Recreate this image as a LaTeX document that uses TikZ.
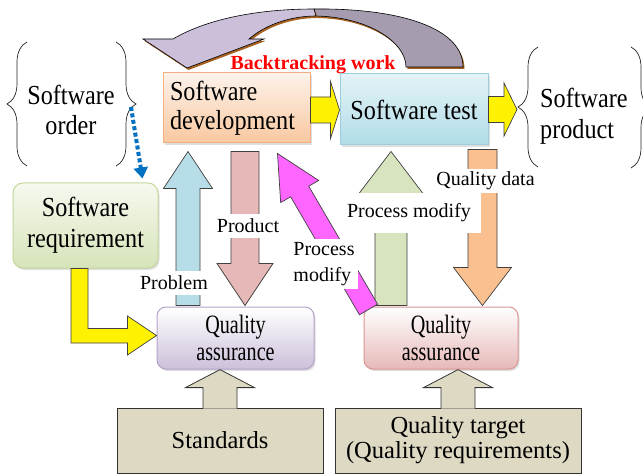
\documentclass[tikz,border=0pt]{standalone}
\usepackage{fontspec}
\setmainfont{Liberation Serif}
\newfontfamily\tallfont[FakeStretch=0.88]{Liberation Serif}
\newfontfamily\narrowfont[FakeStretch=0.76]{Liberation Serif}
\usetikzlibrary{calc,shadows,arrows.meta,decorations.pathreplacing}
\definecolor{devtop}{HTML}{FDF2EA}
\definecolor{devbot}{HTML}{F9C8A0}
\definecolor{devline}{HTML}{F2AE80}
\definecolor{testtop}{HTML}{E4F3F7}
\definecolor{testbot}{HTML}{B0DCE7}
\definecolor{testline}{HTML}{9CCFDE}
\definecolor{reqtop}{HTML}{F6F9EF}
\definecolor{reqbot}{HTML}{D6E4BA}
\definecolor{reqline}{HTML}{C3D69B}
\definecolor{qaAbot}{HTML}{CCC0DA}
\definecolor{qaAline}{HTML}{B3A2C7}
\definecolor{qaBbot}{HTML}{E6B9B8}
\definecolor{qaBline}{HTML}{D99694}
\definecolor{basefill}{HTML}{DDD9C3}
\definecolor{arrblue}{HTML}{B7DEE8}
\definecolor{arrpink}{HTML}{E6B9B8}
\definecolor{arrmag}{HTML}{FF66FF}
\definecolor{arrgreen}{HTML}{D7E4BD}
\definecolor{arrorange}{HTML}{FAC090}
\definecolor{curlfront}{HTML}{CBBFDA}
\definecolor{curlback}{HTML}{A59CAF}
\definecolor{curlshadow}{HTML}{A8621F}
\definecolor{dotblue}{HTML}{0070C0}

\begin{document}
\begin{tikzpicture}[x=1pt,y=-1pt,
  bigtxt/.style={font=\tallfont\fontsize{27.5}{29}\selectfont},
  stagebox/.style={bigtxt,draw=#1line,line width=1pt,top color=#1top,bottom color=#1bot,
    drop shadow={shadow xshift=1.5pt,shadow yshift=-2pt,opacity=.25}},
  qabox/.style={font=\narrowfont\fontsize{26.5}{27}\selectfont,align=center,rounded corners=9pt,
    draw=#1line,line width=1pt,top color=white,bottom color=#1bot,minimum height=62pt,
    drop shadow={shadow xshift=1.5pt,shadow yshift=-2pt,opacity=.25}},
  basebox/.style={font=\fontsize{24.5}{25}\selectfont,align=center,draw=black!80,line width=.8pt,fill=basefill,minimum height=65pt},
  blockarrow/.style={draw=black!75,line width=.7pt},
  curl/.style={draw=black,line width=.6pt,preaction={fill=curlshadow,transform canvas={xshift=1.5pt,yshift=-2pt}}},
  bracket/.style={draw=black!85,line width=.7pt,decorate,decoration={brace,amplitude=20pt}},
  lbl/.style={fill=white,font=\fontsize{20}{26}\selectfont,inner xsep=3pt,inner ysep=5pt},
  dotarrow/.style={dotblue,line width=4pt,dash pattern=on 4pt off 2.5pt,-{Triangle[width=14pt,length=11pt]}}]
\path[use as bounding box,fill=white](0,0)rectangle(643,476);
% backtracking curl
\filldraw[curl,fill=curlback](314,9)..controls(400,8)and(463,28)..(463,67)--(406,67)..controls(406,42)and(368,17)..(316,16)--cycle;
\filldraw[curl,fill=curlfront](316,16)..controls(290,16)and(265,25)..(249,39)--(264,39)--(187,68)--(143,39)--(173,39)..controls(205,20)and(255,9)..(314,9)--cycle;
\node[font=\bfseries\fontsize{20}{24}\selectfont,text=red](back)at(313,65){Backtracking work};
% braces
\draw[bracket](27,166)--(27,42);
\draw[bracket](116,42)--(116,166);
\draw[bracket](538,167)--(538,47);
\draw[bracket](631,47)--(631,168);
\coordinate(otip)at(131,107);
\coordinate(ptip)at(517,107);
\node[bigtxt,align=center,font=\tallfont\fontsize{27.5}{30}\selectfont](order)at(71,110){Software\\order};
\node[bigtxt,align=left,anchor=west,inner sep=0pt,font=\tallfont\fontsize{27.5}{31}\selectfont](product)at(540,116){Software\\product};
% boxes
\node[stagebox=dev,minimum width=147pt,minimum height=70pt,text width=133pt,inner xsep=7pt,align=left](dev)at(236.5,108){Software\\development};
\node[stagebox=test,minimum width=148pt,minimum height=71pt](test)at(414,109.5){Software test};
\node[stagebox=req,rounded corners=10pt,minimum width=145pt,minimum height=85pt,align=center,font=\tallfont\fontsize{27.5}{31}\selectfont](req)at(85.5,225.5){Software\\requirement};
\node[qabox=qaA,minimum width=157pt](qa1)at(235.5,338){Quality\\assurance};
\node[qabox=qaB,minimum width=154pt](qa2)at(441,338){Quality\\assurance};
\node[basebox,minimum width=206pt](std)at(220,440.5){Standards};
\node[basebox,minimum width=246pt](target)at(458,440.5){Quality target\\(Quality requirements)};
\foreach \b in {std,target}{
\filldraw[basebox]($(\b.north)+(-17,1)$)--($(\b.north)+(-17,-20)$)--($(\b.north)+(-34.5,-20)$)--($(\b.north)+(0,-38)$)
  --($(\b.north)+(34.5,-20)$)--($(\b.north)+(17,-20)$)--($(\b.north)+(17,1)$);
}
% block arrows
\coordinate(yAs)at([yshift=-2pt]dev.east);
\coordinate(yAt)at(yAs-|test.west);
\coordinate(yBs)at(test.east);
\coordinate(yBt)at(test.east-|ptip);
\coordinate(pbS)at([xshift=-47.5pt,yshift=1pt]qa1.north);
\coordinate(pbT)at($(pbS|-dev.south)+(0,8)$);
\coordinate(pdS)at($(dev.south)+(8.5,8)$);
\coordinate(pdT)at($(pdS|-qa1.north)+(0,-1)$);
\coordinate(grS)at([xshift=-50pt,yshift=1pt]qa2.north);
\coordinate(grT)at($(grS|-test.south)+(0,6)$);
\coordinate(orS)at($(test.south east)+(-6,4)$);
\coordinate(orT)at($(orS|-qa2.north)+(0,-1)$);
\coordinate(pmS)at($(qa2.north west)+(5,3)$);
\coordinate(pmT)at($(dev.south east)+(-33,10)$);
\foreach \s/\t/\bw/\hw/\hl/\fc in {yAs/yAt/13/28.5/9/yellow,yBs/yBt/13/26.5/13/yellow,pbS/pbT/12/24.5/37/arrblue,
  pdS/pdT/14/28/42/arrpink,grS/grT/16/32/42/arrgreen,orS/orT/14.5/29/38/arrorange,pmS/pmT/10.5/22/44/arrmag}{
\coordinate(h)at($(\t)!\hl pt!(\s)$);
\filldraw[blockarrow,fill=\fc]($(\s)!\bw pt!90:(\t)$)--($(h)!\bw pt!90:(\t)$)--($(h)!\hw pt!90:(\t)$)--(\t)
  --($(h)!\hw pt!-90:(\t)$)--($(h)!\bw pt!-90:(\t)$)--($(\s)!\bw pt!-90:(\t)$)--cycle;
}
\coordinate(elA)at([xshift=-6pt]req.south);
\coordinate(elB)at([yshift=2.5pt]qa1.west);
\filldraw[blockarrow,fill=yellow]($(elA)+(-8.5,0)$)--($(elA|-elB)+(-8.5,7.5)$)--($(elB)+(-29,7.5)$)--($(elB)+(-29,19.5)$)--(elB)
  --($(elB)+(-29,-19.5)$)--($(elB)+(-29,-7)$)--($(elA|-elB)+(8.5,-7)$)--($(elA)+(8.5,0)$)--cycle;
\coordinate(rqtop)at($(req.north east)+(-16,-4)$);
\draw[dotarrow](otip)--(rqtop);
% labels
\node[lbl](lprob)at(174,283){Problem};
\node[lbl](lprod)at(248,226){Product};
\node[lbl,align=left,inner ysep=3pt](lpm1)at(324,264){Process\\modify};
\node[lbl,minimum width=143pt,minimum height=40pt](lpm2)at(409,213){Process modify};
\node[lbl,inner ysep=3pt](lqd)at(485.5,181){Quality data};
\end{tikzpicture}
\end{document}
